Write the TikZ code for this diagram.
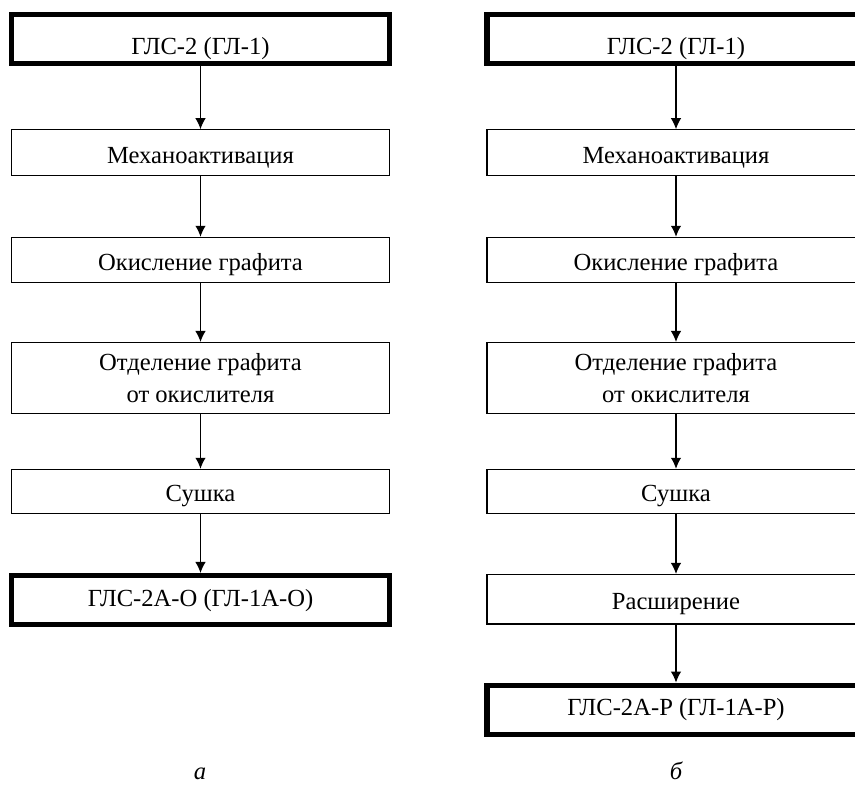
\documentclass[tikz,border=0pt]{standalone}
\usepackage{fontspec}
\setmainfont{Liberation Serif}
\usetikzlibrary{arrows.meta}

\begin{document}
\begin{tikzpicture}[x=1pt,y=-1pt,
        block/.style={draw,line width=1.1pt,minimum width=378pt,minimum height=46pt,
            inner sep=0pt,align=center,font=\fontsize{24.6}{31.5}\selectfont},
        stage/.style={block,text height=26pt,text depth=5pt},
        product/.style={block,line width=5.5pt,minimum height=49pt,text height=17pt,text depth=5pt},
        source/.style={product,text height=36pt},
        flow/.style={-{Latex[length=11pt,width=10.5pt]},line width=1.1pt},
        caption/.style={font=\fontsize{24.6}{28}\selectfont\itshape}]
        \useasboundingbox (0,0) rectangle (855,785);

        % scheme a
        \node[source] (a1) at (200.5,39) {ГЛС-2 (ГЛ-1)};
        \node[stage] (a2) at (200.5,152.7) {Механоактивация};
        \node[stage,minimum height=45pt] (a3) at (200.5,259.8) {Окисление графита};
        \node[block,minimum height=71pt] (a4) at (200.5,378) {Отделение графита\\от окислителя};
        \node[stage,minimum height=44pt] (a5) at (200.5,491.3) {Сушка};
        \node[product] (a6) at (200.5,600.2) {ГЛС-2А-О (ГЛ-1А-О)};

        \draw[flow] (a1) -- (a2);
        \draw[flow] (a2) -- (a3);
        \draw[flow] (a3) -- (a4);
        \draw[flow] (a4) -- (a5);
        \draw[flow] (a5) -- (a6);

        % scheme b
        \node[source] (b1) at (676,39) {ГЛС-2 (ГЛ-1)};
        \node[stage] (b2) at (676,152.7) {Механоактивация};
        \node[stage,minimum height=45pt] (b3) at (676,259.8) {Окисление графита};
        \node[block,minimum height=71pt] (b4) at (676,378) {Отделение графита\\от окислителя};
        \node[stage,minimum height=44pt] (b5) at (676,491.3) {Сушка};
        \node[stage,minimum height=49.5pt] (b6) at (676,599.2) {Расширение};
        \node[product] (b7) at (676,709.8) {ГЛС-2А-Р (ГЛ-1А-Р)};

        \draw[flow] (b1) -- (b2);
        \draw[flow] (b2) -- (b3);
        \draw[flow] (b3) -- (b4);
        \draw[flow] (b4) -- (b5);
        \draw[flow] (b5) -- (b6);
        \draw[flow] (b6) -- (b7);

        \node[caption] (capa) at (200,774) {а};
        \node[caption] (capb) at (676,771) {б};
    \end{tikzpicture}
\end{document}
